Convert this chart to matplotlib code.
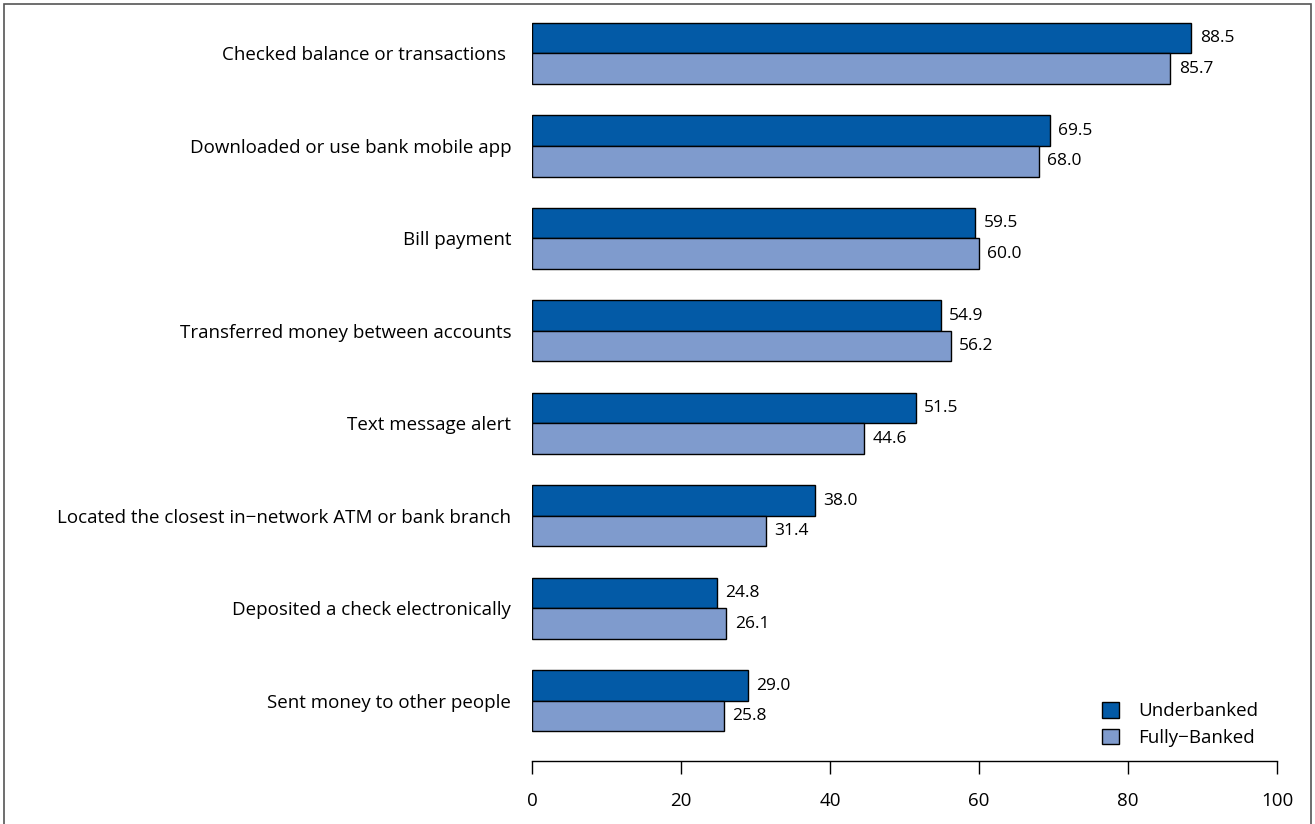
import numpy as np
import matplotlib.pyplot as plt
from matplotlib.patches import Rectangle

plt.rcParams["font.family"] = ["Open Sans", "DejaVu Sans"]

categories = ["Checked balance or transactions ",
              "Downloaded or use bank mobile app",
              "Bill payment",
              "Transferred money between accounts",
              "Text message alert",
              "Located the closest in\u2212network ATM or bank branch",
              "Deposited a check electronically",
              "Sent money to other people"]
underbanked = [88.5, 69.5, 59.5, 54.9, 51.5, 38.0, 24.8, 29.0]
fully_banked = [85.7, 68.0, 60.0, 56.2, 44.6, 31.4, 26.1, 25.8]
series_names = ["Underbanked", "Fully\u2212Banked"]
colors = ["#035AA6", "#7F9BCD"]

W, H = 1315, 824
fig = plt.figure(figsize=(W / 100, H / 100), dpi=100)
ax = fig.add_axes([532 / W, (H - 761) / H, 745 / W, (761 - 15) / H])

y = np.arange(len(categories))
h = 0.33
b1 = ax.barh(y - h / 2, underbanked, height=h, color=colors[0], edgecolor="black",
             linewidth=1, label=series_names[0])
b2 = ax.barh(y + h / 2, fully_banked, height=h, color=colors[1], edgecolor="black",
             linewidth=1, label=series_names[1])

for bars, vals in ((b1, underbanked), (b2, fully_banked)):
    for bar, v in zip(bars, vals):
        ax.annotate('{:.1f}'.format(v), (v, bar.get_y() + bar.get_height() / 2),
                    xytext=(6, 0), textcoords="offset points",
                    ha="left", va="center", fontsize=12.5)

ax.set_xlim(0, 100)
ax.set_ylim(7.649, -0.416)
ax.set_xticks([0, 20, 40, 60, 80, 100])
ax.set_yticks(y)
ax.set_yticklabels(categories, fontsize=13.5)
ax.tick_params(axis="y", length=0, pad=15)
ax.tick_params(axis="x", length=9.5, width=1, pad=13, labelsize=13.5)
for s in ("top", "right", "left"):
    ax.spines[s].set_visible(False)
ax.spines["bottom"].set_linewidth(1)

ax.legend(loc="upper left", bbox_to_anchor=(1102 / W, (H - 702) / H),
          bbox_transform=fig.transFigure, frameon=False, fontsize=13.5,
          borderpad=0, borderaxespad=0,
          handlelength=0.9, handleheight=0.9, handletextpad=1.05, labelspacing=0.45)

fig.patches.append(Rectangle((4 / W, -0.01), (1311 - 4) / W, (H - 4) / H + 0.01,
                             transform=fig.transFigure, fill=False,
                             edgecolor="#555555", linewidth=1.2))

fig.savefig("out.png", dpi=100)
